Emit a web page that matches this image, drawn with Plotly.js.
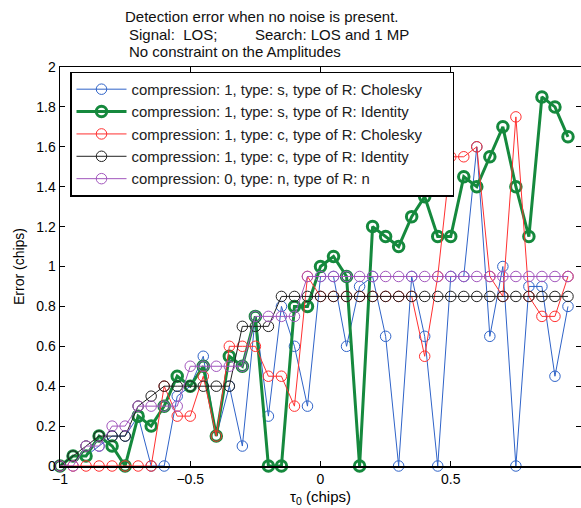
<!DOCTYPE html>
<html><head><meta charset="utf-8">
<script src="https://cdn.plot.ly/plotly-3.0.1.min.js"></script>
<style>html,body{margin:0;padding:0;background:#fff}#chart{width:581px;height:508px}</style>
</head><body><div id="chart"></div>
<script>
// tau_0 values (chips)
const tau = [-1, -0.95, -0.9, -0.85, -0.8, -0.75, -0.7, -0.65, -0.6, -0.55,
             -0.5, -0.45, -0.4, -0.35, -0.3, -0.25, -0.2, -0.15, -0.1, -0.05,
             0, 0.05, 0.1, 0.15, 0.2, 0.25, 0.3, 0.35, 0.4, 0.45,
             0.5, 0.55, 0.6, 0.65, 0.7, 0.75, 0.8, 0.85, 0.9, 0.95];

// compression: 1, type: s, type of R: Cholesky
const errC1sChol = [0, 0.05, 0.05, 0.1, 0.15, 0.15, 0.25, 0, 0, 0.35,
                    0.4, 0.55, 0.15, 0.4, 0.1, 0.75, 0.25, 0.8, 0.6, 0.3,
                    0.95, 0.95, 0.6, 0.9, 0.95, 0.65, 0, 0.95, 0.65, 0,
                    0.95, 0.95, 1.6, 0.65, 1.0, 0, 0.9, 0.9, 0.45, 0.8];
// compression: 1, type: s, type of R: Identity
const errC1sId = [0, 0.05, 0.05, 0.15, 0.1, 0, 0.25, 0.2, 0.3, 0.45,
                  0.4, 0.5, 0.15, 0.55, 0.5, 0.75, 0, 0, 0.8, 0.8,
                  1.0, 1.05, 0.95, 0, 1.2, 1.15, 1.1, 1.25, 1.35, 1.15,
                  1.15, 1.45, 1.4, 1.55, 1.7, 1.4, 1.15, 1.85, 1.8, 1.65];
// compression: 1, type: c, type of R: Cholesky
const errC1cChol = [0, 0, 0, 0, 0, 0, 0, 0, 0.4, 0.25,
                    0.25, 0.45, 0.15, 0.6, 0.6, 0.6, 0.45, 0.45, 0.3, 0.95,
                    0.85, 0.85, 0.85, 0.85, 0.85, 0.85, 0.85, 0.85, 0.55, 0.95,
                    1.55, 1.55, 1.6, 0.95, 0.85, 1.75, 0.85, 0.75, 0.75, 0.95];
// compression: 1, type: c, type of R: Identity
const errC1cId = [0, 0.05, 0.1, 0.15, 0.15, 0.15, 0.3, 0.35, 0.4, 0.4,
                  0.4, 0.4, 0.4, 0.4, 0.7, 0.7, 0.7, 0.85, 0.85, 0.85,
                  0.85, 0.85, 0.85, 0.85, 0.85, 0.85, 0.85, 0.85, 0.85, 0.85,
                  0.85, 0.85, 0.85, 0.85, 0.85, 0.85, 0.85, 0.85, 0.85, 0.85];
// compression: 0, type: n, type of R: n
const errC0n = [0, 0, 0.1, 0.1, 0.2, 0.2, 0.3, 0.3, 0.3, 0.3,
                0.5, 0.5, 0.5, 0.5, 0.5, 0.75, 0.75, 0.75, 0.75, 0.95,
                0.95, 0.95, 0.95, 0.95, 0.95, 0.95, 0.95, 0.95, 0.95, 0.95,
                0.95, 0.95, 0.95, 0.95, 0.95, 0.95, 0.95, 0.95, 0.95, 0.95];

const names = ['compression: 1, type: s, type of R: Cholesky',
               'compression: 1, type: s, type of R: Identity',
               'compression: 1, type: c, type of R: Cholesky',
               'compression: 1, type: c, type of R: Identity',
               'compression: 0, type: n, type of R: n'];
const titleLines = ['Detection error when no noise is present.',
                    'Signal:  LOS;         Search: LOS and 1 MP',
                    'No constraint on the Amplitudes'];

const series = [errC1sChol, errC1sId, errC1cChol, errC1cId, errC0n];
const colors = ['#2f63c8', '#15893d', '#ff3030', '#222222', '#a257bd'];
const widths = [1, 3, 1, 1, 1];
const mwidths = [1, 3, 1, 1, 1];

const nb = '\u00a0';
const pad = nb.repeat(6); // widen legend box like the original
const traces = series.map((ys, k) => ({
  type: 'scatter', mode: 'lines+markers', x: tau, y: ys,
  name: names[k] + (k === 2 ? pad : ''),
  line: {color: colors[k], width: widths[k]},
  marker: {symbol: 'circle-open', size: 10.5, color: colors[k], line: {width: mwidths[k], color: colors[k]}},
  cliponaxis: false
}));

const font = 'Liberation Sans, Arial, sans-serif';
const L = 60, T = 67, PH = 399, PW = 521;
const px2x = p => (p - L) / PW;
const px2y = p => (T + PH - p) / PH;
const titleY = [17, 34, 51];
const titleX = [123, 126.5, 126.5];
const annotations = titleLines.map((t, k) => ({
  text: t.replace(/ {2,}/g, m => nb.repeat(m.length)),
  xref: 'paper', yref: 'paper', x: px2x(titleX[k]), y: px2y(titleY[k]),
  xanchor: 'left', yanchor: 'middle', align: 'left', showarrow: false,
  font: {family: font, size: 15, color: '#111'}
}));

const layout = {
  width: 581, height: 508,
  margin: {l: L, r: 0, t: T, b: 42},
  paper_bgcolor: '#fff', plot_bgcolor: '#fff',
  font: {family: font, size: 14, color: '#000'},
  annotations: annotations,
  xaxis: {
    range: [-1, 1], dtick: 0.5, tick0: -1,
    showline: true, linecolor: '#000', linewidth: 1.5, mirror: 'ticks',
    ticks: 'inside', ticklen: 5, tickcolor: '#000',
    showgrid: false, zeroline: false,
    title: {text: 'τ<sub>0</sub> (chips)', standoff: 5, font: {family: font, size: 15}},
    tickfont: {family: font, size: 14}
  },
  yaxis: {
    range: [0, 2], dtick: 0.2, tick0: 0,
    showline: true, linecolor: '#000', linewidth: 1.5, mirror: 'ticks',
    ticks: 'inside', ticklen: 5, tickcolor: '#000',
    showgrid: false, zeroline: false,
    title: {text: 'Error (chips)', standoff: 8, font: {family: font, size: 14}},
    tickfont: {family: font, size: 14}
  },
  legend: {
    x: px2x(70), y: px2y(71.5), xanchor: 'left', yanchor: 'top',
    bgcolor: '#fff', bordercolor: '#000', borderwidth: 1.5,
    font: {family: font, size: 14.9, color: '#222'},
    itemwidth: 50, tracegroupgap: 0
  },
  showlegend: true
};

Plotly.newPlot('chart', traces, layout, {displayModeBar: false, staticPlot: true});
</script>
</body></html>
